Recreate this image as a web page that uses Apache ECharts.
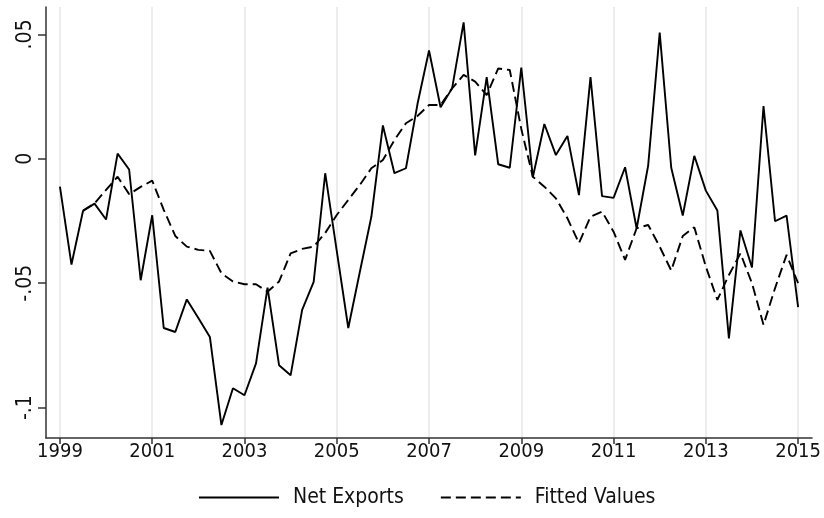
<!DOCTYPE html>
<html>
<head>
<meta charset="utf-8">
<script src="https://cdn.jsdelivr.net/npm/echarts@6/dist/echarts.min.js"></script>
<style>
  html, body { margin: 0; padding: 0; background: #fff; }
  #chart { width: 824px; height: 518px; }
</style>
</head>
<body>
<div id="chart"></div>
<script>
// quarterly data, 1999q1 .. 2015q1
var startYear = 1999;
var netExports = [
  -0.0112, -0.0425, -0.0210, -0.0180, -0.0244, 0.0021, -0.0043, -0.0488,
  -0.0227, -0.0680, -0.0696, -0.0565, -0.0640, -0.0716, -0.1070, -0.0922,
  -0.0950, -0.0822, -0.0518, -0.0830, -0.0870, -0.0607, -0.0495, -0.0058,
  -0.0370, -0.0680, -0.0455, -0.0233, 0.0134, -0.0058, -0.0038, 0.0220,
  0.0435, 0.0207, 0.0283, 0.0548, 0.0014, 0.0328, -0.0022, -0.0036,
  0.0366, -0.0074, 0.0140, 0.0015, 0.0092, -0.0146, 0.0328, -0.0150,
  -0.0157, -0.0034, -0.0280, -0.0027, 0.0507, -0.0036, -0.0228, 0.0012,
  -0.0128, -0.0208, -0.0722, -0.0288, -0.0437, 0.0212, -0.0251, -0.0228,
  -0.0596
];
var fittedValues = [
  null, null, -0.0208, -0.0179, -0.0125, -0.0072, -0.0142, -0.0113,
  -0.0088, -0.0205, -0.0310, -0.0353, -0.0366, -0.0370, -0.0460, -0.0493,
  -0.0504, -0.0504, -0.0534, -0.0493, -0.0380, -0.0362, -0.0353, -0.0298,
  -0.0226, -0.0165, -0.0105, -0.0038, -0.0005, 0.0075, 0.0143, 0.0172,
  0.0216, 0.0216, 0.0283, 0.0337, 0.0310, 0.0256, 0.0363, 0.0357,
  0.0120, -0.0072, -0.0112, -0.0159, -0.0239, -0.0339, -0.0233, -0.0212,
  -0.0293, -0.0406, -0.0279, -0.0266, -0.0353, -0.0449, -0.0310, -0.0275,
  -0.0433, -0.0567, -0.0467, -0.0380, -0.0500, -0.0667, -0.0520, -0.0386,
  -0.0500
];
var xTicks = [1999, 2001, 2003, 2005, 2007, 2009, 2011, 2013, 2015];
var yTicks = [-0.1, -0.05, 0, 0.05];

function pairs(vals) {
  return vals.map(function (v, i) { return [startYear + i / 4, v]; });
}

var font = "'Liberation Sans Narrow', 'DejaVu Sans', sans-serif";
var stretch = 'condensed';
var axisColor = '#333';

var option = {
  animation: false,
  grid: { left: 46, right: 9, top: 7, bottom: 80 },
  legend: {
    left: 193,
    top: 482,
    itemWidth: 80,
    itemHeight: 14,
    itemGap: 36,
    itemStyle: { opacity: 0 },
    textStyle: { fontFamily: font, fontWeight: stretch, fontSize: 21, color: '#111', padding: [0, 0, 0, 9] },
    data: ['Net Exports', 'Fitted Values']
  },
  xAxis: {
    type: 'value',
    min: 1998.698,
    max: 2015.302,
    axisLine: { show: true, onZero: false, lineStyle: { color: axisColor, width: 1.5 } },
    axisTick: { show: true, length: 6, customValues: xTicks, lineStyle: { color: axisColor, width: 1.5 } },
    axisLabel: {
      customValues: xTicks, margin: 4, color: '#111', fontFamily: font, fontWeight: stretch, fontSize: 20,
      formatter: function (v) { return String(v); }
    },
    splitLine: { show: true, lineStyle: { color: '#e6e6e6', width: 1.5 } }
  },
  yAxis: {
    type: 'value',
    min: -0.1122,
    max: 0.061,
    axisLine: { show: true, onZero: false, lineStyle: { color: axisColor, width: 1.5 } },
    axisTick: { show: true, length: 8, customValues: yTicks, lineStyle: { color: axisColor, width: 1.5 } },
    axisLabel: {
      customValues: yTicks, rotate: 90, margin: 10, color: '#111', fontFamily: font, fontWeight: stretch, fontSize: 21,
      formatter: function (v) {
        if (v === 0) return '0';
        return String(v).replace('0.', '.');
      }
    },
    splitLine: { show: false }
  },
  series: [
    {
      name: 'Net Exports',
      type: 'line',
      data: pairs(netExports),
      symbol: 'none',
      lineStyle: { color: '#000', width: 1.9 },
      itemStyle: { color: '#000' }
    },
    {
      name: 'Fitted Values',
      type: 'line',
      data: pairs(fittedValues),
      symbol: 'none',
      connectNulls: false,
      lineStyle: { color: '#000', width: 1.9, type: [10, 5] },
      itemStyle: { color: '#000' }
    }
  ]
};

echarts.init(document.getElementById('chart')).setOption(option);
</script>
</body>
</html>
